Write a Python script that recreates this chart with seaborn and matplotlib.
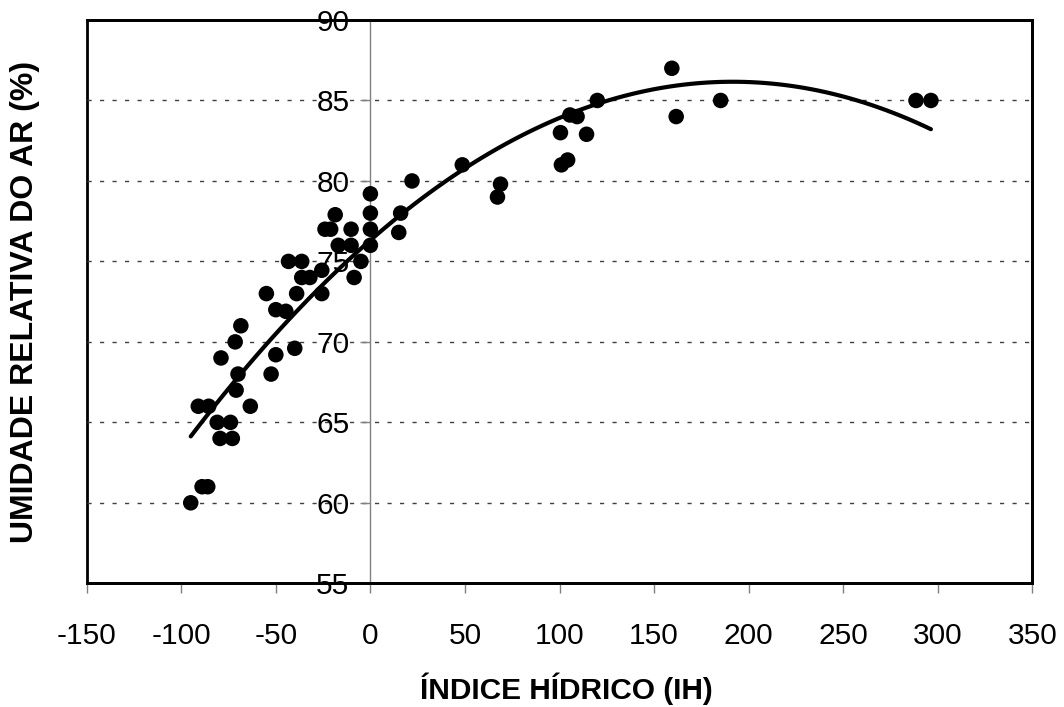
import matplotlib
matplotlib.use("Agg")
import matplotlib.pyplot as plt
import seaborn as sns
import numpy as np
import pandas as pd

# ---- data ----
indice_hidrico = [
    -95, -89, -86,
    -91, -85.5, -81, -79.5, -73, -74, -79, -71, -71.5, -70, -68.5, -63.5,
    -55, -52.5, -50, -50, -44.7, -43.3, -40, -39, -36.3, -36.3, -32,
    -25.7, -25.7, -24, -21, -18.6, -17, -10.2, -10.2, -8.6, -5,
    0, 0, 0, 0,
    15, 16, 22, 48.6, 67.2, 68.8,
    100.5, 101, 104.3, 105.5, 109.3, 114.3, 120,
    159.4, 161.7, 185.2, 288.5, 296.4,
]
umidade = [
    60, 61, 61,
    66, 66, 65, 64, 64, 65, 69, 67, 70, 68, 71, 66,
    73, 68, 72, 69.2, 71.9, 75, 69.6, 73, 75, 74, 74,
    74.45, 73, 77, 77, 77.9, 76, 77, 76, 74, 75,
    79.2, 78, 77, 76,
    76.8, 78, 80, 81, 79, 79.8,
    83, 81, 81.3, 84.1, 84, 82.9, 85,
    87, 84, 85, 85, 85,
]
x_ticks = [-150, -100, -50, 0, 50, 100, 150, 200, 250, 300, 350]
y_ticks = [55, 60, 65, 70, 75, 80, 85, 90]
x_label = "ÍNDICE HÍDRICO (IH)"
y_label = "UMIDADE RELATIVA DO AR (%)"

df = pd.DataFrame({"ih": indice_hidrico, "ur": umidade})

sns.set_theme(style="white")
plt.rcParams["font.family"] = ["Liberation Sans", "DejaVu Sans"]

fig = plt.figure(figsize=(10.64, 7.07), dpi=100)
ax = fig.add_axes([0.0815, 0.175, 0.8887, 0.7967])

# horizontal dashed grid
for yv in y_ticks[1:-1]:
    ax.axhline(yv, color="#404040", lw=1.0, ls=(0, (3, 6)), zorder=0)

sns.regplot(data=df, x="ih", y="ur", order=2, ci=None, scatter=False,
            truncate=True, ax=ax,
            line_kws=dict(color="black", lw=3.0, solid_capstyle="round"))
sns.scatterplot(data=df, x="ih", y="ur", ax=ax, color="black",
                s=125, edgecolor="none", zorder=3)

ax.set_xlim(x_ticks[0], x_ticks[-1])
ax.set_ylim(y_ticks[0], y_ticks[-1])
ax.set_xticks(x_ticks)
ax.set_yticks(y_ticks)
ax.set_xticklabels([str(v) for v in x_ticks])
ax.set_yticklabels([str(v) for v in y_ticks])

# frame
ax.patch.set_edgecolor("black")
ax.patch.set_linewidth(2.0)
for side in ["top", "right", "bottom"]:
    ax.spines[side].set_visible(True)
    ax.spines[side].set_color("black")
    ax.spines[side].set_linewidth(2.0)
ax.spines["left"].set_position(("data", 0))
ax.spines["left"].set_color("#808080")
ax.spines["left"].set_linewidth(1.0)

ax.tick_params(axis="x", direction="out", length=7, width=1, color="#808080",
               labelsize=21.5, pad=21, bottom=True, labelcolor="black")
ax.tick_params(axis="y", direction="out", length=7, width=1, color="#808080",
               labelsize=21.5, pad=8, left=True, labelcolor="black")

ax.set_xlabel(x_label, fontsize=21.5, fontweight="bold", color="black")
ax.set_ylabel(y_label, fontsize=23, fontweight="bold", color="black")
ax.xaxis.set_label_coords(0.507, -0.158)
ax.yaxis.set_label_coords(-0.049, 0.5)

fig.savefig("out.png", dpi=100, facecolor="white")
